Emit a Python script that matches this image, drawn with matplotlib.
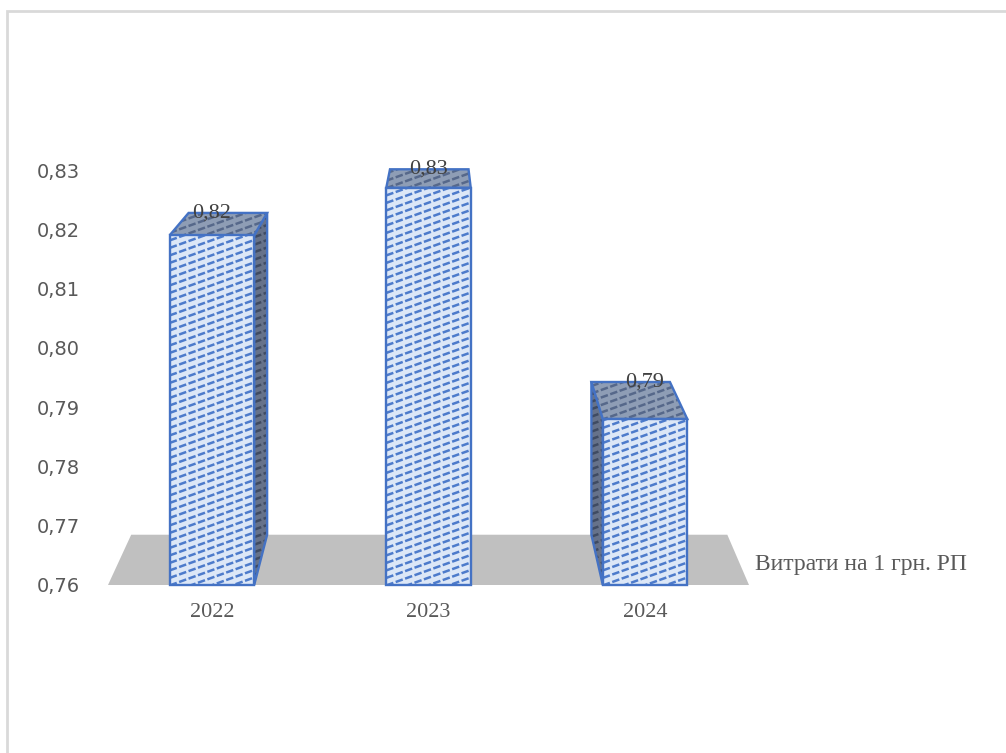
import matplotlib

matplotlib.use("Agg")
import matplotlib.pyplot as plt
import numpy as np
from matplotlib.collections import LineCollection
from matplotlib.patches import Polygon, Rectangle

years = ["2022", "2023", "2024"]
costs = [0.819, 0.827, 0.788]
series_name = "Витрати на 1 грн. РП"
y_ticks = [0.76, 0.77, 0.78, 0.79, 0.80, 0.81, 0.82, 0.83]

BASE = 0.76
BAR_W = 0.39
# simple one-point perspective for the box depth
VX, VY = 1.05, 0.866
KX, KY = 0.07, 0.08

FRONT = dict(fc="#dce7f7", hatch="#4d7bcb", edge="#4472c4")
TOP = dict(fc="#8e9db5", hatch="#56688a", edge="#4472c4")
SIDE = dict(fc="#66728a", hatch="#3f4b62", edge="#4472c4")


def back(x, y):
    return x + KX * (VX - x), y + KY * (VY - y)


def hatched_face(ax, pts, style, px_per):
    poly = Polygon(pts, closed=True, fc=style["fc"], ec="none",
                   clip_on=False, zorder=3)
    ax.add_patch(poly)
    sx, sy = px_per
    xs = [p[0] for p in pts]
    ys = [p[1] for p in pts]
    slope = 0.36 * sx / sy  # shallow diagonal stripes, in data units
    step = 7.5 / sy
    x0, x1 = min(xs), max(xs)
    lo = min(ys) - slope * (x1 - x0) - step
    hi = max(ys) + step
    segs = [[(x0, c), (x1, c + slope * (x1 - x0))] for c in np.arange(lo, hi, step)]
    lc = LineCollection(segs, colors=style["hatch"], linewidths=1.8,
                        linestyles=(0, (3, 1)), zorder=3)
    ax.add_collection(lc)
    lc.set_clip_path(poly)
    ax.add_patch(Polygon(pts, closed=True, fill=False, ec=style["edge"], lw=1.7,
                         clip_on=False, zorder=3))


fig = plt.figure(figsize=(10.06, 7.53), dpi=100)
ax = fig.add_axes([108 / 1006, 168 / 753, 641 / 1006, 415 / 753])
ax.set_xlim(-0.48, 2.48)
ax.set_ylim(BASE, 0.83)
for s in ax.spines.values():
    s.set_visible(False)

fig.canvas.draw()
p0 = ax.transData.transform((0, BASE))
p1 = ax.transData.transform((1, BASE + 0.01))
px_per = (p1[0] - p0[0], (p1[1] - p0[1]) / 0.01)

# floor
fl, fr = -0.48, 2.48
floor = [(fl, BASE), (fr, BASE), back(fr, BASE), back(fl, BASE)]
ax.add_patch(Polygon(floor, closed=True, fc="#c0c0c0", ec="none", zorder=1, clip_on=False))

xpos = np.arange(len(years))
for x, v in zip(xpos, costs):
    l, r = x - BAR_W / 2, x + BAR_W / 2
    if r < VX:
        hatched_face(ax, [(r, BASE), back(r, BASE), back(r, v), (r, v)], SIDE, px_per)
    if l > VX:
        hatched_face(ax, [(l, BASE), back(l, BASE), back(l, v), (l, v)], SIDE, px_per)
    hatched_face(ax, [(l, v), (r, v), back(r, v), back(l, v)], TOP, px_per)
    hatched_face(ax, [(l, BASE), (r, BASE), (r, v), (l, v)], FRONT, px_per)
    ax.text(x, back(x, v)[1], f"{v:.2f}".replace(".", ","), ha="center", va="center",
            fontsize=16, family="Liberation Serif", color="#404040", zorder=5)

ax.set_yticks(y_ticks)
ax.set_yticklabels([f"{t:.2f}".replace(".", ",") for t in y_ticks],
                   family="DejaVu Sans", fontsize=14, color="#595959")
ax.set_xticks(xpos)
ax.set_xticklabels(years, family="Liberation Serif", fontsize=16, color="#595959")
ax.tick_params(axis="y", length=0, pad=20)
ax.tick_params(axis="x", length=0, pad=13)

ax.text(back(fr, BASE)[0] + 0.13, BASE + 0.0035, series_name, ha="left", va="center",
        family="Liberation Serif", fontsize=17, color="#595959")

fig.patches.append(Rectangle((7 / 1006, -0.1), 1.2, (753 - 11) / 753 + 0.1,
                             transform=fig.transFigure, fill=False,
                             ec="#d9d9d9", lw=2))

fig.savefig("out.png", dpi=100)
